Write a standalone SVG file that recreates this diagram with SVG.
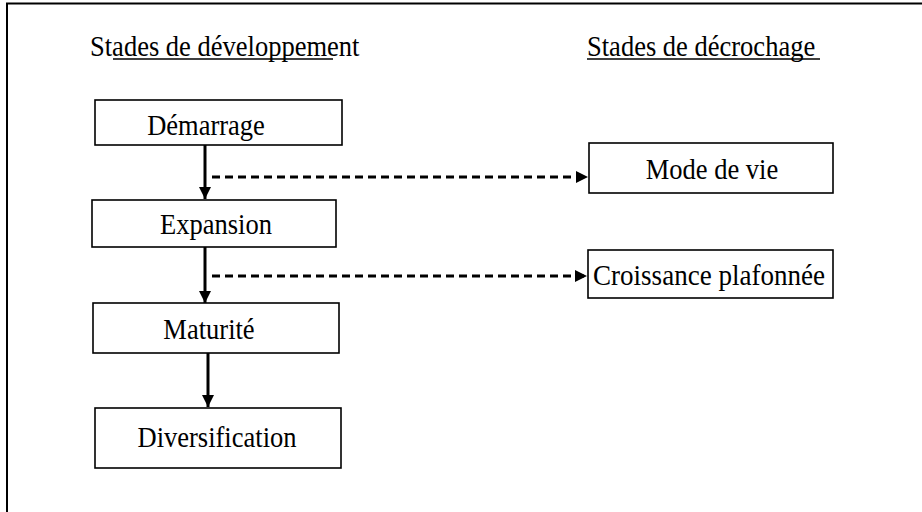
<svg xmlns="http://www.w3.org/2000/svg" width="922" height="512" viewBox="0 0 922 512">
<defs>
<style>
.box{fill:#fff;stroke:#000;stroke-width:1.6}
.t{font-family:"Liberation Serif","Times New Roman",serif;font-size:26px;fill:#000}
.c{text-anchor:middle}
.solid{stroke:#000;stroke-width:3;fill:none}
.dash{stroke:#000;stroke-width:3;fill:none;stroke-dasharray:8 5}
.ul{stroke:#000;stroke-width:1.5}
</style>
<marker id="ah" viewBox="0 0 10 10" refX="10" refY="5" markerWidth="13" markerHeight="12" markerUnits="userSpaceOnUse" orient="auto">
<path d="M0,0 L10,5 L0,10 Z" fill="#000"/>
</marker>
</defs>
<rect width="922" height="512" fill="#fff"/>
<path d="M7,514 L7,3.5 L924,3.5" fill="none" stroke="#000" stroke-width="2"/>
<g id="headers">
<text class="t" transform="translate(90,56) scale(1.02,1.15)">Stades de développement</text>
<line class="ul" x1="113" y1="59" x2="333" y2="59"/>
<text class="t" transform="translate(587,56) scale(1.02,1.15)">Stades de décrochage</text>
<line class="ul" x1="587" y1="59" x2="820" y2="59"/>
</g>
<g id="connectors">
<line class="solid" x1="205" y1="145" x2="205" y2="199" marker-end="url(#ah)"/>
<line class="solid" x1="205" y1="247" x2="205" y2="303" marker-end="url(#ah)"/>
<line class="solid" x1="208" y1="353" x2="208" y2="407" marker-end="url(#ah)"/>
<line class="dash" x1="212" y1="177" x2="588" y2="177" marker-end="url(#ah)"/>
<line class="dash" x1="212" y1="276" x2="587" y2="276" marker-end="url(#ah)"/>
</g>
<g id="demarrage">
<rect class="box" x="95" y="100" width="247" height="45"/>
<text class="t c" transform="translate(206,135) scale(1.02,1.15)">Démarrage</text>
</g>
<g id="expansion">
<rect class="box" x="92" y="200" width="244" height="47"/>
<text class="t c" transform="translate(216,234) scale(1.02,1.15)">Expansion</text>
</g>
<g id="maturite">
<rect class="box" x="93" y="303" width="246" height="50"/>
<text class="t c" transform="translate(209,339) scale(1.02,1.15)">Maturité</text>
</g>
<g id="diversification">
<rect class="box" x="95" y="408" width="246" height="60"/>
<text class="t c" transform="translate(217,447) scale(1.02,1.15)">Diversification</text>
</g>
<g id="mode-de-vie">
<rect class="box" x="589" y="143" width="244" height="50"/>
<text class="t c" transform="translate(712,179) scale(1.02,1.15)">Mode de vie</text>
</g>
<g id="croissance">
<rect class="box" x="588" y="250" width="245" height="48"/>
<text class="t c" transform="translate(709,285) scale(1.04,1.15)">Croissance plafonnée</text>
</g>
</svg>
